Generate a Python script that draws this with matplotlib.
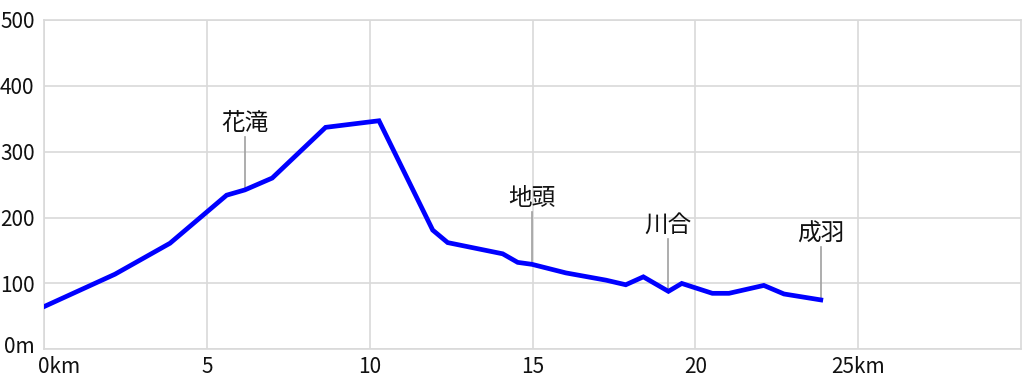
import matplotlib
matplotlib.use("Agg")
import matplotlib.pyplot as plt
from matplotlib.transforms import ScaledTranslation

plt.rcParams['font.family'] = ['Noto Sans CJK JP', 'DejaVu Sans']

# elevation profile (km, m)
dist = [0, 2.17, 3.86, 5.6, 6.16, 7.0, 8.64, 10.28, 11.93, 12.39, 14.08, 14.54,
        14.98, 16.02, 17.25, 17.86, 18.4, 19.17, 19.58, 20.52, 21.03, 22.1, 22.72, 23.85]
elev = [65, 114, 161, 234, 242, 260, 337, 347, 181, 162, 145, 132,
        129, 116, 105, 98, 110, 88, 100, 85, 85, 97, 84, 75]

# place markers
place_names = ["花滝", "地頭", "川合", "成羽"]
place_dist = [6.16, 14.98, 19.17, 23.85]
place_elev = [242, 129, 88, 75]
marker_len = 80

xticks = [0, 5, 10, 15, 20, 25]
xlabels = ["0km", "5", "10", "15", "20", "25km"]
yticks = [0, 100, 200, 300, 400, 500]
ylabels = ["0m", "100", "200", "300", "400", "500"]

fig = plt.figure(figsize=(10.24, 3.83), dpi=100)
ax = fig.add_axes([44.3/1024, 33.7/383, 976.7/1024, 329.3/383])

ax.plot(dist, elev, color="#0000ff", lw=3.4, solid_joinstyle='miter', zorder=3)

for name, d, e in zip(place_names, place_dist, place_elev):
    ax.plot([d, d], [e, e + marker_len], color="#a0a0a0", lw=1.2, zorder=2)
    ax.text(d, e + marker_len + 3, name, ha='center', va='bottom', fontsize=17, color="#111111")

ax.set_xlim(0, 30)
ax.set_ylim(0, 500)
ax.set_xticks(xticks, xlabels)
ax.set_yticks(yticks, ylabels)
ax.tick_params(length=0, labelsize=15, colors="#111111")
ax.tick_params(axis='y', pad=7)
ax.tick_params(axis='x', pad=5)
ax.grid(True, color="#d9d9d9", lw=1.2)
ax.set_axisbelow(True)
for s in ax.spines.values():
    s.set_color("#d9d9d9")
    s.set_linewidth(1.2)

first = ax.get_xticklabels()[0]
first.set_ha('left')
first.set_transform(first.get_transform() + ScaledTranslation(-6/100, 0, fig.dpi_scale_trans))
zero = ax.get_yticklabels()[0]
zero.set_transform(zero.get_transform() + ScaledTranslation(0, 5/100, fig.dpi_scale_trans))

fig.savefig("out.png", dpi=100)
